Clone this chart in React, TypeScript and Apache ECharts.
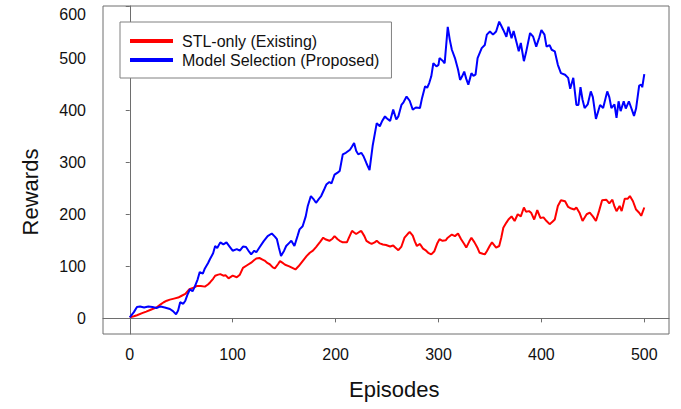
import React, { useEffect, useRef } from "react";
import * as echarts from "echarts";

const seriesNames = ["STL-only (Existing)", "Model Selection (Proposed)"];
const xTicks = [0, 100, 200, 300, 400, 500];
const yTicks = [0, 100, 200, 300, 400, 500, 600];

const blueEpisodes = [0, 4, 7, 10, 14, 18, 22, 26, 30, 34, 39, 42, 45, 47, 49, 52, 54, 56, 58.5, 61, 63, 66, 68, 71, 73, 76, 78, 81, 83, 85, 88, 91, 94, 97, 100, 104, 107, 110, 113, 116, 118, 121, 123, 126, 130, 134, 138, 141, 143, 145, 147, 150, 152, 155, 157, 160, 163, 165, 168, 171, 173, 176, 179, 181, 184, 186, 189, 191, 194, 196, 199, 202, 204, 207, 210, 214, 216, 218, 220, 222, 225, 227, 230, 232, 233, 236, 240, 243, 245, 248, 250, 253, 256, 259, 261, 264, 266, 269, 272, 275, 278, 282, 284, 287, 289, 291, 293, 295, 298, 300, 301, 304, 306, 309, 311, 313, 316, 319, 321, 323, 325, 327, 329, 332, 334, 336, 338, 342, 345, 347, 350, 353, 356, 359, 361, 363, 366, 368, 371, 373, 376, 378, 380, 383, 385, 389, 392, 395, 398, 400, 403, 405, 408, 410, 413, 416, 419, 423, 426, 428, 431, 434, 436, 438, 440, 442, 445, 448, 450, 453, 457, 460, 464, 466, 468, 471, 473, 475, 477, 480, 482, 485, 487, 490, 492, 495, 497, 498, 500];
const blueRewards = [2, 12, 22, 23, 21, 23, 22, 20, 23, 21, 18, 14, 8, 15, 31, 28, 34, 45, 56, 52, 60, 75, 89, 86, 96, 106, 114, 125, 139, 135, 146, 142, 146, 138, 130, 133, 130, 138, 137, 128, 123, 130, 127, 136, 148, 158, 163, 157, 152, 135, 120, 130, 139, 145, 149, 139, 158, 171, 177, 196, 216, 235, 228, 222, 230, 235, 248, 257, 262, 259, 276, 280, 283, 315, 318, 324, 330, 337, 322, 315, 318, 312, 298, 289, 285, 331, 375, 369, 378, 388, 384, 379, 401, 382, 388, 410, 415, 426, 418, 401, 405, 404, 423, 446, 443, 452, 465, 490, 484, 487, 500, 495, 490, 560, 535, 516, 500, 478, 458, 465, 474, 460, 449, 471, 466, 468, 500, 519, 525, 545, 551, 545, 551, 570, 562, 554, 541, 560, 538, 552, 529, 513, 529, 494, 510, 548, 541, 522, 540, 554, 545, 522, 525, 516, 513, 487, 471, 468, 462, 441, 462, 410, 410, 444, 420, 404, 411, 436, 425, 383, 410, 404, 436, 425, 404, 411, 385, 417, 398, 417, 403, 417, 406, 389, 403, 447, 449, 444, 469];

const redEpisodes = [0, 4, 7, 12, 16, 21, 26, 30, 33, 36, 39, 43, 47, 50, 54, 58, 62, 65, 69, 73, 76, 78, 81, 83, 86, 88, 91, 93, 96, 100, 104, 107, 110, 114, 118, 121, 123, 126, 129, 131, 134, 136, 139, 141, 144, 146, 149, 151, 155, 158, 161, 164, 168, 172, 175, 178, 181, 185, 188, 190, 194, 197, 199, 202, 204, 207, 211, 213, 216, 218, 220, 223, 225, 228, 230, 233, 235, 238, 240, 243, 246, 249, 253, 256, 258, 261, 264, 267, 270, 272, 275, 277, 279, 282, 285, 288, 290, 293, 296, 299, 301, 304, 307, 309, 313, 316, 319, 322, 325, 327, 330, 332, 335, 338, 340, 343, 345, 347, 350, 352, 356, 359, 361, 363, 366, 368, 371, 374, 377, 380, 383, 385, 388, 390, 393, 396, 399, 402, 405, 408, 411, 413, 416, 419, 423, 426, 429, 432, 434, 437, 440, 444, 447, 450, 453, 456, 459, 463, 466, 469, 471, 473, 476, 478, 481, 484, 486, 489, 492, 495, 497, 500];
const redRewards = [2, 4, 6, 10, 13, 17, 21, 27, 31, 34, 36, 38, 40, 43, 47, 56, 59, 62, 62, 61, 65, 69, 76, 82, 84, 85, 82, 83, 77, 82, 79, 84, 97, 102, 107, 112, 115, 116, 113, 111, 106, 104, 98, 96, 104, 110, 106, 103, 100, 97, 94, 100, 110, 120, 126, 130, 137, 147, 155, 152, 149, 153, 158, 152, 149, 146, 146, 155, 168, 165, 162, 166, 168, 158, 149, 145, 143, 146, 149, 144, 142, 141, 138, 140, 136, 131, 138, 155, 162, 166, 159, 148, 139, 143, 134, 130, 126, 123, 129, 145, 152, 149, 150, 155, 161, 158, 163, 152, 143, 136, 148, 155, 146, 135, 126, 124, 123, 129, 140, 146, 136, 139, 155, 174, 184, 190, 196, 187, 200, 196, 213, 205, 206, 203, 190, 208, 193, 194, 187, 181, 186, 190, 216, 227, 225, 214, 211, 209, 213, 203, 187, 200, 203, 196, 187, 206, 227, 228, 221, 228, 215, 206, 216, 206, 230, 230, 235, 225, 209, 203, 197, 213];

const FONT = "'Liberation Sans', Arial, sans-serif";
const AXIS_GRAY = "#6e6e6e";

export default function App() {
  const ref = useRef<HTMLDivElement>(null);
  useEffect(() => {
    if (!ref.current) return;
    const chart = echarts.init(ref.current, undefined, { renderer: "svg" });
    const red = redEpisodes.map((e, i) => [e, redRewards[i]]);
    const blue = blueEpisodes.map((e, i) => [e, blueRewards[i]]);
    chart.setOption({
      animation: false,
      backgroundColor: "#ffffff",
      grid: {
        left: 103,
        right: 12,
        top: 6,
        bottom: 75,
        show: true,
        borderColor: AXIS_GRAY,
        borderWidth: 1,
        backgroundColor: "transparent",
      },
      legend: {
        orient: "vertical",
        left: 120,
        top: 22,
        padding: [11, 12, 10, 10],
        itemGap: 3,
        itemWidth: 43,
        itemHeight: 4,
        icon: "rect",
        backgroundColor: "#ffffff",
        borderColor: "#808080",
        borderWidth: 1,
        borderRadius: 0,
        textStyle: {
          fontFamily: FONT,
          fontSize: 16,
          color: "#111111",
          padding: [0, 0, 0, 4],
        },
        data: seriesNames,
      },
      xAxis: {
        type: "value",
        min: -26,
        max: 524,
        axisLine: { show: true, lineStyle: { color: AXIS_GRAY, width: 1 } },
        axisTick: {
          show: true,
          length: 4,
          customValues: xTicks,
          lineStyle: { color: AXIS_GRAY },
        },
        axisLabel: {
          customValues: xTicks,
          margin: 12,
          fontFamily: FONT,
          fontSize: 16,
          color: "#111111",
        },
        splitLine: { show: false },
      },
      yAxis: {
        type: "value",
        min: -30,
        max: 600,
        axisLine: { show: true, lineStyle: { color: AXIS_GRAY, width: 1 } },
        axisTick: {
          show: true,
          length: 4,
          customValues: yTicks,
          lineStyle: { color: AXIS_GRAY },
        },
        axisLabel: {
          customValues: yTicks,
          margin: 17,
          fontFamily: FONT,
          fontSize: 16,
          color: "#111111",
          verticalAlignMaxLabel: "top",
        },
        splitLine: { show: false },
      },
      graphic: [
        {
          type: "text",
          left: 349,
          top: 378,
          style: {
            text: "Episodes",
            font: `22px ${FONT}`,
            fill: "#111111",
          },
        },
        {
          type: "text",
          x: 30,
          y: 192,
          rotation: Math.PI / 2,
          style: {
            text: "Rewards",
            font: `22px ${FONT}`,
            fill: "#111111",
            align: "center",
            verticalAlign: "middle",
          },
        },
      ],
      series: [
        {
          name: seriesNames[0],
          type: "line",
          data: red,
          showSymbol: false,
          symbol: "none",
          lineStyle: { color: "#ff0000", width: 2 },
          itemStyle: { color: "#ff0000" },
          z: 2,
        },
        {
          name: seriesNames[1],
          type: "line",
          data: blue,
          showSymbol: false,
          symbol: "none",
          lineStyle: { color: "#0000ff", width: 2 },
          itemStyle: { color: "#0000ff" },
          z: 3,
        },
      ],
    });
    return () => chart.dispose();
  }, []);
  return <div ref={ref} style={{ width: 681, height: 409, position: "absolute", left: 0, top: 0 }} />;
}
